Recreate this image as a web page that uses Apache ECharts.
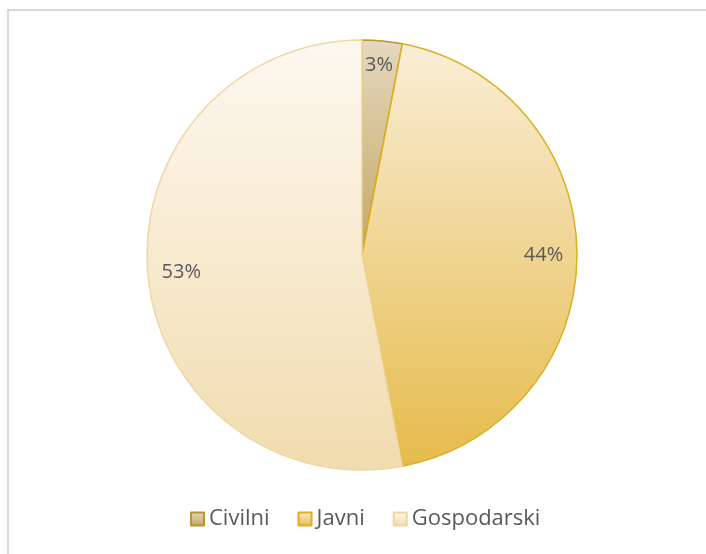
<!DOCTYPE html>
<html>
<head>
<meta charset="utf-8">
<script src="https://cdn.jsdelivr.net/npm/echarts@6/dist/echarts.min.js"></script>
<style>
  html, body { margin: 0; padding: 0; background: #fff; }
  #eChartPie { width: 706px; height: 554px; }
</style>
</head>
<body>
<div id="eChartPie"></div>
<script>
var categories = ['Civilni', 'Javni', 'Gospodarski'];
var shares = [3, 44, 53];

var topColors = ['#e4d8c0', '#f9eed6', '#fdf8f0'];
var bottomColors = ['#c4a762', '#e6bb4c', '#f1dcae'];
var edgeColors = ['#b8962e', '#e0ad1e', '#efd7a5'];

var myChart = echarts.init(document.getElementById('eChartPie'));

var pieData = categories.map(function (name, i) {
    return {
        name: name,
        value: shares[i],
        itemStyle: {
            color: new echarts.graphic.LinearGradient(0, 0, 0, 1, [
                {offset: 0, color: topColors[i]},
                {offset: 1, color: bottomColors[i]}
            ]),
            borderColor: edgeColors[i],
            borderWidth: 1.5
        }
    };
});

// second ring only carries the labels, so they sit near the rim like the original
var labelData = categories.map(function (name, i) {
    var item = {name: name, value: shares[i]};
    if (i === 0) {
        item.label = {offset: [0, -9]};   // small slice label sits higher
    }
    return item;
});

option = {
    backgroundColor: '#fff',
    animation: false,
    graphic: [
        {
            type: 'polyline',
            shape: {points: [[8, 554], [8, 10], [706, 10]]},
            style: {stroke: '#d9d9d9', lineWidth: 2, fill: null},
            silent: true
        }
    ],
    legend: {
        data: categories,
        bottom: 19,
        left: 185,
        itemWidth: 13,
        itemHeight: 13,
        itemGap: 28,
        icon: 'rect',
        textStyle: {
            fontFamily: 'Open Sans',
            fontSize: 22,
            color: '#595959'
        }
    },
    series: [
        {
            type: 'pie',
            center: [362, 255],
            radius: [0, 215],
            startAngle: 90,
            clockwise: true,
            silent: true,
            label: {show: false},
            labelLine: {show: false},
            data: pieData
        },
        {
            type: 'pie',
            center: [362, 255],
            radius: [142, 215],
            startAngle: 90,
            clockwise: true,
            silent: true,
            itemStyle: {color: 'rgba(0,0,0,0)', borderWidth: 0},
            label: {
                show: true,
                position: 'inside',
                formatter: '{c}%',
                fontFamily: 'Open Sans',
                fontSize: 20,
                color: '#595959'
            },
            labelLine: {show: false},
            data: labelData
        }
    ]
};

myChart.setOption(option);
</script>
</body>
</html>
